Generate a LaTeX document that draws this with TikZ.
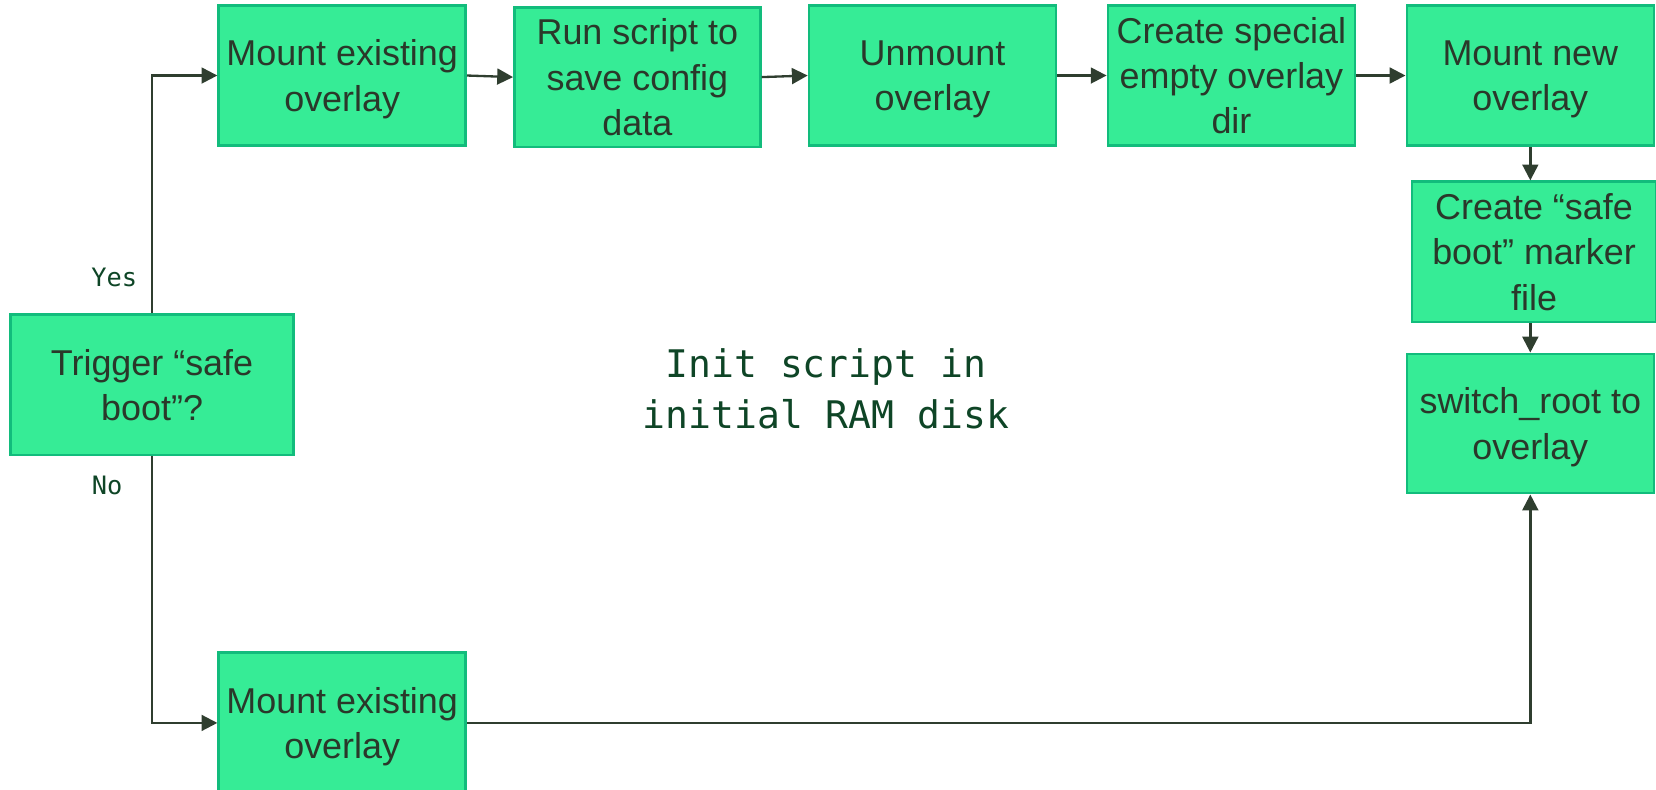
\documentclass[tikz,border=0pt]{standalone}
\usepackage{fontspec}
\setmainfont{Liberation Sans}
\setmonofont{DejaVu Sans Mono}
\usetikzlibrary{arrows.meta}
\definecolor{boxfill}{HTML}{36EC96}
\definecolor{boxline}{HTML}{12BC7C}
\definecolor{boxtext}{HTML}{2A382A}
\definecolor{wire}{HTML}{2F3E2F}
\definecolor{notetext}{HTML}{0E4526}
\tikzset{
  stepbox/.style={draw=boxline, fill=boxfill, line width=2.4pt, inner sep=0pt,
    align=center, text=boxtext, text depth=-8.5pt, font=\fontsize{34}{43}\selectfont},
  flow/.style={draw=wire, line width=2.2pt, -{Triangle[length=15pt,width=15pt]}},
  answer/.style={text=notetext, font=\ttfamily\fontsize{24}{28}\selectfont, inner sep=0pt},
}
\begin{document}
\begin{tikzpicture}[x=1pt, y=-1pt]
\useasboundingbox (0,0) rectangle (1568,748);

% decision
\node[stepbox, minimum width=268pt, minimum height=133pt] (trig) at (144,364.5) {Trigger “safe\\boot”?};

% "safe boot" branch along the top
\node[stepbox, minimum width=234pt, minimum height=133pt] (b1) at (324,71.5) {Mount existing\\overlay};
\node[stepbox, minimum width=233pt, minimum height=132pt] (b2) at (603.5,73) {Run script to\\save config\\data};
\node[stepbox, minimum width=234pt, minimum height=133pt] (b3) at (883,71.5) {Unmount\\overlay};
\node[stepbox, minimum width=234pt, minimum height=133pt] (b4) at (1166,71.5) {Create special\\empty overlay\\dir};
\node[stepbox, minimum width=234pt, minimum height=133pt] (b5) at (1449,71.5) {Mount new\\overlay};
\node[stepbox, minimum width=231pt, minimum height=133pt] (b6) at (1452.5,238.5) {Create “safe\\boot” marker\\file};
\node[stepbox, minimum width=234pt, minimum height=132pt] (b7) at (1449,401) {switch\_root to\\overlay};

% normal branch along the bottom
\node[stepbox, minimum width=234pt, minimum height=133pt] (b8) at (324,684.5) {Mount existing\\overlay};

% caption in the middle
\node[text=notetext, align=center, font=\ttfamily\fontsize{36}{48}\selectfont] (cap) at (782,368) {Init script in\\initial RAM disk};

% branch labels
\node[answer, anchor=east] (yes) at (130,263) {Yes};
\node[answer, anchor=east] (no) at (116,460) {No};

% connectors
\draw[flow] (trig.north) |- (b1.west);
\draw[flow] (trig.south) |- (b8.west);
\draw[flow] (b1.east) -- (b2.west);
\draw[flow] (b2.east) -- (b3.west);
\draw[flow] (b3.east) -- (b4.west);
\draw[flow] (b4.east) -- (b5.west);
\draw[flow] (b5.south) -- (b5.south |- b6.north);
\draw[flow] (b6.south -| b7.north) -- (b7.north);
\draw[flow] (b8.east) -| (b7.south);
\end{tikzpicture}
\end{document}
